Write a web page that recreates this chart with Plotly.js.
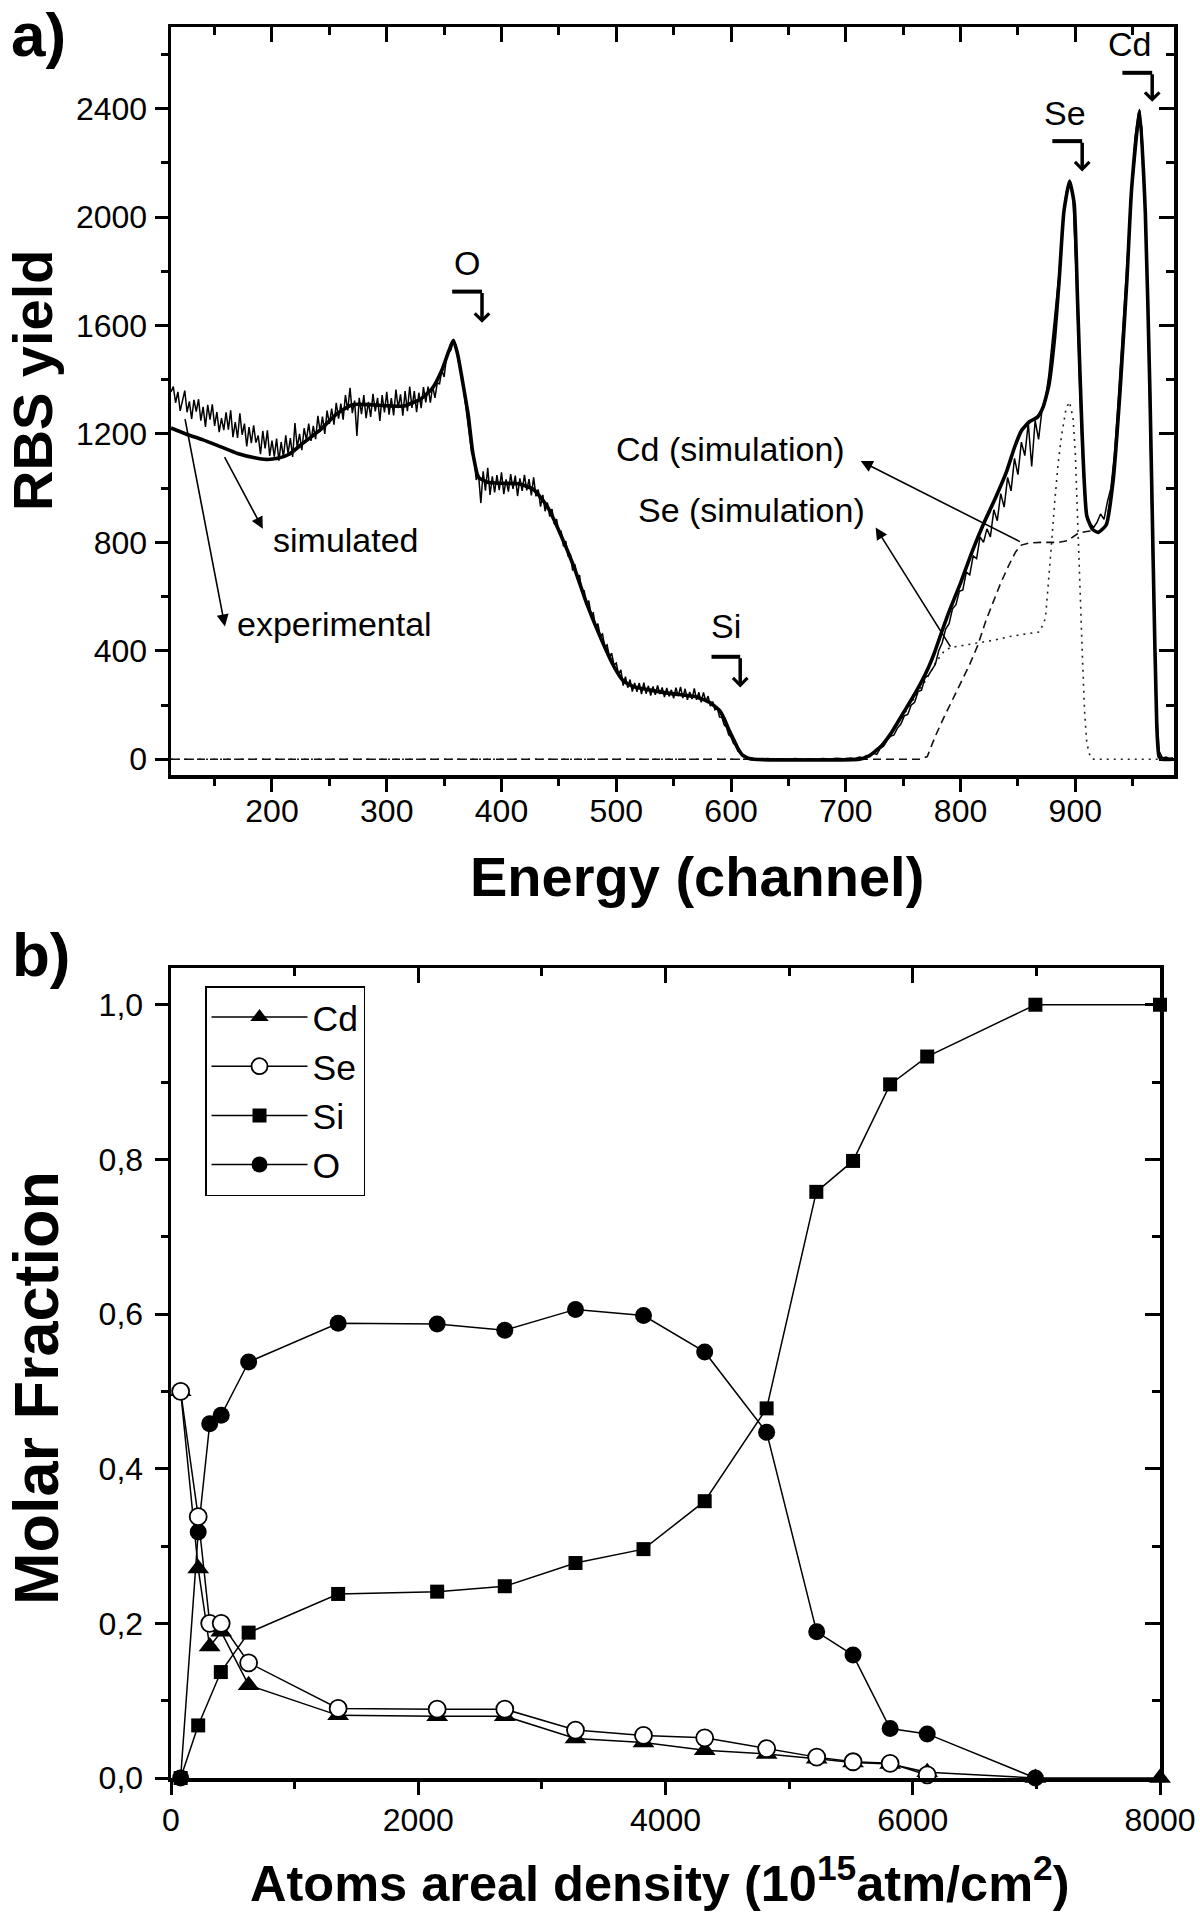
<!DOCTYPE html>
<html><head><meta charset="utf-8">
<script src="https://cdn.plot.ly/plotly-3.0.1.min.js"></script>
<style>html,body{margin:0;padding:0;background:#fff}#chart{width:1200px;height:1915px}</style>
</head><body><div id="chart"></div>
<script>
// ---------- Panel a: RBS spectrum (channel, yield) ----------
const expPoints = [
[112,1355],[114,1375],[116,1315],[118,1355],[120,1285],[122,1330],[124,1360],[126,1280],[128,1320],[130,1255],
[132,1326],[134,1282],[136,1328],[138,1249],[140,1300],[142,1226],[144,1307],[146,1253],[148,1309],[150,1230],
[152,1281],[154,1207],[156,1258],[158,1214],[160,1280],[162,1216],[164,1287],[166,1188],[168,1244],[170,1185],
[172,1276],[174,1197],[176,1238],[178,1154],[180,1225],[182,1166],[184,1232],[186,1168],[188,1194],[190,1125],
[192,1211],[194,1147],[196,1213],[198,1119],[200,1175],[202,1116],[204,1183],[206,1101],[208,1170],[210,1115],
[212,1195],[214,1127],[216,1185],[218,1115],[220,1240],[222,1150],[224,1200],[226,1140],[228,1221],[230,1177],
[232,1238],[234,1174],[236,1230],[238,1181],[240,1267],[242,1208],[244,1264],[246,1200],[248,1286],[250,1237],
[252,1293],[254,1234],[256,1315],[258,1256],[260,1312],[262,1253],[264,1343],[266,1287],[268,1370],[270,1277],
[272,1323],[274,1193],[276,1333],[278,1273],[280,1343],[282,1258],[284,1318],[286,1263],[288,1348],[290,1283],
[292,1333],[294,1248],[296,1343],[298,1279],[300,1355],[302,1271],[304,1332],[306,1268],[308,1364],[310,1295],
[312,1346],[314,1267],[316,1358],[318,1284],[320,1375],[322,1296],[324,1358],[326,1280],[328,1352],[330,1295],
[332,1373],[334,1316],[336,1375],[338,1315],[340,1376],[342,1333],[344,1387],[346,1385],[348,1435],[350,1410],
[352,1480],[354,1500],[356,1510],[358,1545],[360,1530],[362,1475],[364,1440],[366,1395],[368,1330],[370,1260],
[372,1205],[374,1130],[376,1110],[378,1030],[380,1050],[382,945],[384,1062],[386,991],[388,1075],[390,975],
[392,1044],[394,984],[396,1048],[398,993],[400,1058],[402,978],[404,1032],[406,987],[408,1052],[410,997],
[412,1046],[414,971],[416,1036],[418,990],[420,1049],[422,992],[424,1033],[426,973],[428,1040],[430,970],
[432,995],[434,932],[436,975],[438,915],[440,947],[442,895],[444,923],[446,867],[448,886],[450,835],
[452,840],[454,785],[456,805],[458,748],[460,757],[462,696],[464,719],[466,666],[468,679],[470,616],
[472,623],[474,570],[476,585],[478,535],[480,540],[482,485],[484,500],[486,455],[488,462],[490,415],
[492,422],[494,379],[496,391],[498,348],[500,355],[502,313],[504,330],[506,272],[508,305],[510,264],
[512,294],[514,250],[516,282],[518,249],[520,282],[522,240],[524,283],[526,242],[528,271],[530,235],
[532,269],[534,238],[536,272],[538,241],[540,265],[542,229],[544,263],[546,232],[548,256],[550,225],
[552,264],[554,233],[556,267],[558,226],[560,260],[562,219],[564,248],[566,222],[568,261],[570,219],
[572,247],[574,210],[576,247],[578,213],[580,233],[582,196],[584,213],[586,183],[588,190],[590,156],
[592,155],[594,127],[596,118],[598,90],[600,82],[602,60],[604,50],[606,30],[608,25],[610,14],
[612,11],[614,5],[617,5],[620,2],[626,0],[632,3],[638,0],[644,2],[650,0],[656,3],
[662,0],[668,2],[674,0],[680,3],[686,1],[692,4],[698,2],[704,5],[708,3],[712,8],
[715,6],[718,14],[721,10],[724,22],[727,18],[730,40],[733,48],[736,70],[739,85],[742,90],
[745,115],[748,130],[751,160],[754,165],[757,200],[760,210],[763,250],[766,255],[769,300],[772,310],
[775,330],[778,350],[781,400],[784,430],[787,480],[790,500],[793,555],[796,570],[799,620],[802,625],
[805,690],[808,680],[811,750],[814,740],[817,820],[820,800],[823,850],[826,820],[829,920],[832,880],
[835,980],[838,930],[841,1040],[844,990],[847,1110],[850,1050],[853,1170],[856,1120],[859,1240],[862,1080],
[865,1250],[868,1180],[871,1290],[874,1330],[877,1420],[880,1540],[883,1680],[886,1800],[889,1980],[892,2090],
[895,2130],[898,2070],[901,1760],[904,1350],[907,1050],[910,900],[913,870],[916,855],[919,875],[922,905],
[925,885],[928,950],[931,1000],[934,1120],[937,1300],[940,1500],[943,1720],[946,1930],[949,2100],[952,2290],
[955,2385],[958,2330],[961,2000],[964,1480],[967,820],[970,230],[973,30],[976,5],[979,8],[982,3],[985,6]
];
const simPoints = [
[112,1222],[125,1200],[140,1178],[155,1153],[170,1128],[185,1112],[195,1106],[205,1110],[215,1125],[227,1166],
[242,1215],[256,1272],[270,1308],[285,1308],[300,1304],[315,1303],[330,1330],[340,1370],[348,1435],[354,1505],
[358,1545],[362,1490],[366,1395],[371,1270],[375,1130],[380,1040],[388,1022],[400,1018],[415,1016],[428,995],
[440,932],[451,834],[463,711],[474,577],[486,452],[498,342],[506,290],[515,268],[530,255],[545,244],
[560,236],[570,230],[582,208],[590,180],[594,150],[598,110],[602,75],[606,40],[610,15],[615,4],
[620,0],[712,0],[720,12],[730,45],[740,100],[750,170],[760,240],[770,320],[777,390],[784,475],
[790,545],[800,650],[810,765],[820,868],[830,960],[840,1060],[847,1150],[853,1212],[860,1245],[867,1262],
[872,1300],[877,1380],[882,1557],[886,1771],[890,2018],[895,2133],[899,2050],[902,1688],[906,1194],[910,898],
[915,848],[920,837],[927,865],[933,1029],[939,1359],[945,1771],[949,2100],[956,2393],[961,2018],[965,1359],
[968,700],[971,124],[973,10],[976,0],[985,0]
];
const cdSimPoints = [
[112,0],[765,0],[771,10],[778,85],[785,150],[792,210],[801,290],[808,350],[815,420],[822,510],
[828,575],[835,650],[842,715],[848,765],[853,790],[860,798],[870,800],[885,800],[893,806],[898,820],
[903,835],[910,840],[915,843],[920,837],[927,865],[933,1029],[939,1359],[945,1771],[949,2100],[956,2393],
[961,2018],[965,1359],[968,700],[971,124],[973,10],[976,0],[985,0]
];
const seSimPoints = [
[112,0],[712,0],[720,10],[730,42],[740,95],[750,160],[760,225],[766,265],[771,300],[778,355],
[785,395],[791,412],[800,418],[814,428],[830,440],[843,453],[856,462],[869,470],[874,520],[876,618],
[879,780],[882,947],[885,1090],[888,1194],[892,1295],[895,1318],[898,1260],[900,1130],[902,865],[904,640],
[906,400],[908,180],[910,60],[913,8],[916,0],[985,0]
];

// ---------- Panel b: molar fraction vs areal density ----------
const cdDepth    = [78, 220, 313, 406, 628, 1352, 2153, 2700, 3272, 3822, 4317, 4818, 5223, 5517, 5817, 6117, 6992, 8000];
const cdFraction = [0.5, 0.271, 0.17, 0.189, 0.12, 0.081, 0.08, 0.08, 0.051, 0.046, 0.036, 0.031, 0.025, 0.02, 0.018, 0.0075, 0, 0];
const seDepth    = [78, 220, 313, 406, 628, 1352, 2153, 2700, 3272, 3822, 4317, 4818, 5223, 5517, 5817, 6117];
const seFraction = [0.5, 0.338, 0.2, 0.2, 0.149, 0.09, 0.089, 0.089, 0.062, 0.055, 0.052, 0.038, 0.027, 0.021, 0.019, 0.004];
const siDepth    = [78, 220, 403, 628, 1352, 2153, 2700, 3272, 3822, 4317, 4818, 5220, 5517, 5817, 6117, 6992, 8000];
const siFraction = [0, 0.068, 0.137, 0.188, 0.238, 0.241, 0.248, 0.278, 0.296, 0.358, 0.478, 0.758, 0.798, 0.897, 0.933, 1.0, 1.0];
const oDepth     = [78, 220, 313, 406, 628, 1352, 2153, 2700, 3272, 3822, 4317, 4818, 5223, 5517, 5817, 6117, 6992];
const oFraction  = [0, 0.318, 0.458, 0.469, 0.538, 0.588, 0.587, 0.579, 0.606, 0.598, 0.551, 0.447, 0.189, 0.159, 0.064, 0.057, 0];

const xsOf = p => p.map(d => d[0]);
const ysOf = p => p.map(d => d[1]);
const FONT = 'Liberation Sans, Arial, Helvetica, sans-serif';
const BLK = '#000';

const traces = [
  {x: xsOf(seSimPoints), y: ysOf(seSimPoints), mode: 'lines', xaxis: 'x', yaxis: 'y',
   line: {color: '#222', width: 1.6, dash: '2px,5px'}, showlegend: false, hoverinfo: 'skip'},
  {x: xsOf(cdSimPoints), y: ysOf(cdSimPoints), mode: 'lines', xaxis: 'x', yaxis: 'y',
   line: {color: '#111', width: 1.6, dash: '8px,5px'}, showlegend: false, hoverinfo: 'skip'},
  {x: xsOf(expPoints), y: ysOf(expPoints), mode: 'lines', xaxis: 'x', yaxis: 'y',
   line: {color: BLK, width: 1.5}, showlegend: false},
  {x: xsOf(simPoints), y: ysOf(simPoints), mode: 'lines', xaxis: 'x', yaxis: 'y',
   line: {color: BLK, width: 3.6, shape: 'spline', smoothing: 0.5}, showlegend: false},
  {x: [], y: [], xaxis: 'x3', yaxis: 'y', showlegend: false, hoverinfo: 'skip'},
  {x: [], y: [], xaxis: 'x', yaxis: 'y3', showlegend: false, hoverinfo: 'skip'},

  {x: oDepth, y: oFraction, name: 'O', legendrank: 4, legendgroup: 'o', mode: 'lines+markers', xaxis: 'x2', yaxis: 'y2',
   cliponaxis: false, line: {color: BLK, width: 1.5}, marker: {symbol: 'circle', size: 17, color: BLK}},
  {x: siDepth, y: siFraction, name: 'Si', legendrank: 3, legendgroup: 'si', mode: 'lines+markers', xaxis: 'x2', yaxis: 'y2',
   cliponaxis: false, line: {color: BLK, width: 1.5}, marker: {symbol: 'square', size: 14, color: BLK}},
  {x: cdDepth, y: cdFraction, name: 'Cd', legendrank: 1, legendgroup: 'cd', mode: 'lines+markers', xaxis: 'x2', yaxis: 'y2',
   cliponaxis: false, line: {color: BLK, width: 1.5}, marker: {symbol: 'triangle-up', size: 19, color: BLK}},
  {x: seDepth, y: seFraction, name: 'Se', legendrank: 2, legendgroup: 'se', mode: 'lines+markers', xaxis: 'x2', yaxis: 'y2',
   cliponaxis: false, line: {color: BLK, width: 1.5}, marker: {symbol: 'circle', size: 17, color: '#fff', line: {color: BLK, width: 1.8}}},
  {x: [], y: [], xaxis: 'x4', yaxis: 'y2', showlegend: false, hoverinfo: 'skip'},
  {x: [], y: [], xaxis: 'x2', yaxis: 'y4', showlegend: false, hoverinfo: 'skip'}
];

const tickFont = {family: FONT, size: 32, color: BLK};
const baseAx = {showgrid: false, zeroline: false, showline: true, linecolor: BLK, linewidth: 3.5,
  mirror: true, ticks: 'outside', ticklen: 13, tickwidth: 3, tickcolor: BLK, tickfont: tickFont};
const overAx = {showgrid: false, zeroline: false, showline: false, showticklabels: false,
  ticks: 'inside', ticklen: 15, tickwidth: 3, tickcolor: BLK};

const domA_x = [171/1200, 1174/1200], domA_y = [1 - 775/1915, 1 - 27/1915];
const domB_x = [171/1200, 1160/1200], domB_y = [1 - 1778/1915, 1 - 968/1915];
const rangeAx = [112, 986], rangeAy = [-58, 2701];
const rangeBx = [0, 8000], rangeBy = [0, 1.0475];

const layout = {
  width: 1200, height: 1915, margin: {l: 0, r: 0, t: 0, b: 0},
  paper_bgcolor: '#fff', plot_bgcolor: '#fff', separators: ', ',
  font: {family: FONT, color: BLK},
  xaxis: Object.assign({}, baseAx, {domain: domA_x, anchor: 'y', range: rangeAx, tick0: 0, dtick: 100, ticklabelstandoff: -8,
    minor: {ticks: 'outside', tick0: 0, dtick: 50, ticklen: 7, tickwidth: 3, tickcolor: BLK}}),
  yaxis: Object.assign({}, baseAx, {domain: domA_y, anchor: 'x', range: rangeAy, tick0: 0, dtick: 400, ticklabelstandoff: 1,
    minor: {ticks: 'outside', tick0: 0, dtick: 200, ticklen: 7, tickwidth: 3, tickcolor: BLK}}),
  xaxis3: Object.assign({}, overAx, {overlaying: 'x', side: 'top', anchor: 'y', range: rangeAx, tick0: 0, dtick: 100,
    minor: {ticks: 'inside', tick0: 0, dtick: 50, ticklen: 8, tickwidth: 3, tickcolor: BLK}}),
  yaxis3: Object.assign({}, overAx, {overlaying: 'y', side: 'right', anchor: 'x', range: rangeAy, tick0: 0, dtick: 400,
    minor: {ticks: 'inside', tick0: 0, dtick: 200, ticklen: 8, tickwidth: 3, tickcolor: BLK}}),
  xaxis2: Object.assign({}, baseAx, {domain: domB_x, anchor: 'y2', range: rangeBx, tick0: 0, dtick: 2000, ticklabelstandoff: -2,
    minor: {ticks: 'outside', tick0: 0, dtick: 1000, ticklen: 7, tickwidth: 3, tickcolor: BLK}}),
  yaxis2: Object.assign({}, baseAx, {domain: domB_y, anchor: 'x2', range: rangeBy, tick0: 0, dtick: 0.2, tickformat: '.1f', ticklabelstandoff: 5,
    minor: {ticks: 'outside', tick0: 0, dtick: 0.1, ticklen: 7, tickwidth: 3, tickcolor: BLK}}),
  xaxis4: Object.assign({}, overAx, {overlaying: 'x2', side: 'top', anchor: 'y2', range: rangeBx, tick0: 0, dtick: 2000,
    minor: {ticks: 'inside', tick0: 0, dtick: 1000, ticklen: 8, tickwidth: 3, tickcolor: BLK}}),
  yaxis4: Object.assign({}, overAx, {overlaying: 'y2', side: 'right', anchor: 'x2', range: rangeBy, tick0: 0, dtick: 0.2,
    minor: {ticks: 'inside', tick0: 0, dtick: 0.1, ticklen: 8, tickwidth: 3, tickcolor: BLK}}),
  showlegend: true,
  legend: {x: 205/1200, y: 1 - 986/1915, xanchor: 'left', yanchor: 'top', bgcolor: '#fff',
    bordercolor: BLK, borderwidth: 1.5, font: {family: FONT, size: 35.5, color: BLK},
    itemwidth: 96, tracegroupgap: 0, traceorder: 'normal'},
  shapes: [],
  annotations: []
};

const lbl = (x, y, text, xanchor) => ({xref: 'x', yref: 'y', x, y, text, showarrow: false,
  xanchor: xanchor || 'center', yanchor: 'middle', font: {family: FONT, size: 34, color: BLK}});
const thinArrow = (x, y, ax, ay) => ({xref: 'x', yref: 'y', axref: 'x', ayref: 'y', x, y, ax, ay, text: '',
  showarrow: true, arrowhead: 2, arrowsize: 1.5, arrowwidth: 1.6, arrowcolor: BLK, standoff: 0, startstandoff: 0});
const bent = (x0, x1, yTop, yBot) => {
  layout.shapes.push({type: 'line', xref: 'x', yref: 'y', x0, x1, y0: yTop, y1: yTop, line: {color: BLK, width: 4}});
  layout.annotations.push({xref: 'x', yref: 'y', axref: 'x', ayref: 'y', x: x1, y: yBot, ax: x1, ay: yTop, text: '',
    showarrow: true, arrowhead: 4, arrowsize: 0.8, arrowwidth: 3.5, arrowcolor: BLK, standoff: 0});
};

layout.annotations.push(
  lbl(370, 1830, 'O'), lbl(596, 490, 'Si'), lbl(891, 2385, 'Se'), lbl(947, 2640, 'Cd'),
  lbl(199, 810, 'simulated', 'left'), lbl(168, 500, 'experimental', 'left'),
  lbl(498, 1143, 'Cd (simulation)', 'left'), lbl(517, 918, 'Se (simulation)', 'left'),
  thinArrow(192, 850, 158, 1120), thinArrow(159, 490, 124, 1260),
  thinArrow(713, 1100, 853, 800), thinArrow(726, 855, 792, 410)
);
bent(357, 383, 1725, 1610);
bent(583, 608, 378, 265);
bent(880, 906, 2280, 2168);
bent(941, 967, 2532, 2425);

const ptxt = (x, y, text, size, angle) => ({xref: 'paper', yref: 'paper', x: x/1200, y: 1 - y/1915, text,
  showarrow: false, xanchor: 'center', yanchor: 'middle', textangle: angle || 0,
  font: {family: FONT, size, color: BLK}});
layout.annotations.push(
  ptxt(38, 35, '<b>a)</b>', 62),
  ptxt(41, 954, '<b>b)</b>', 62),
  ptxt(32, 381, '<b>RBS yield</b>', 56, -90),
  ptxt(697, 876, '<b>Energy (channel)</b>', 56),
  ptxt(36, 1388, '<b>Molar Fraction</b>', 63, -90),
  ptxt(660, 1880, '<b>Atoms areal density (10<sup>15</sup>atm/cm<sup>2</sup>)</b>', 50.5)
);

Plotly.newPlot('chart', traces, layout, {staticPlot: true, displayModeBar: false});
</script></body></html>
